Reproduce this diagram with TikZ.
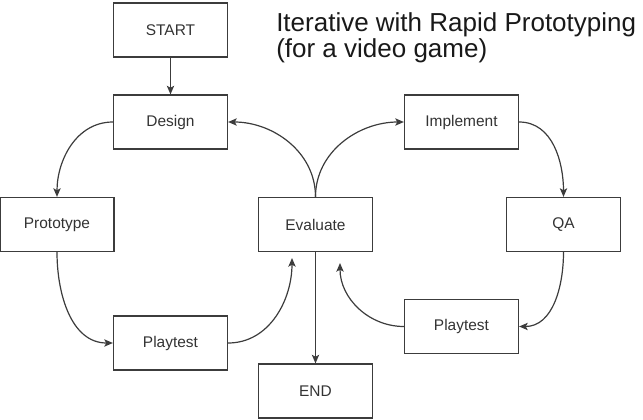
\documentclass[tikz,border=0pt]{standalone}
\usepackage{fontspec}
\setmainfont{Liberation Sans}
\usetikzlibrary{arrows.meta}
\definecolor{linec}{HTML}{3C3C3C}
\definecolor{textc}{HTML}{333333}
\begin{document}
\begin{tikzpicture}[x=0.75pt,y=-0.75pt,
  box/.style={draw=linec, line width=0.9pt, inner sep=0pt, minimum width=85.5pt, minimum height=40.5pt,
    text=textc, font=\fontsize{11.6}{14}\selectfont},
  conn/.style={draw=linec, line width=0.9pt, -{Stealth[length=6.5pt,width=5.5pt,inset=1.5pt]}}]
\useasboundingbox (0,0) rectangle (643,419);
\node[box] (start) at (170.5,30) {START};
\node[box] (design) at (170.5,122) {Design};
\node[box] (proto) at (57,224.5) {Prototype};
\node[box] (playl) at (170.5,343) {Playtest};
\node[box] (eval) at (315.5,224.5) {Evaluate};
\node[box] (endn) at (315.5,391) {END};
\node[box] (impl) at (461.5,122) {Implement};
\node[box] (qa) at (563.5,224.5) {QA};
\node[box] (playr) at (461.5,326.5) {Playtest};
\coordinate (e1) at (292,258);
\coordinate (e2) at (340,263);
\node[anchor=base west, inner sep=0pt, font=\fontsize{19.5}{20}\selectfont, text=black!90] (t1) at (276,31) {Iterative with Rapid Prototyping};
\node[anchor=base west, inner sep=0pt, font=\fontsize{19.5}{20}\selectfont, text=black!90] (t2) at (276,57.5) {(for a video game)};
\draw[conn] (start) -- (design);
\draw[conn] (design.west) to[out=180,in=90] (proto.north);
\draw[conn] (proto.south) to[out=270,in=180] (playl.west);
\draw[conn] (playl.east) to[out=0,in=270] (e1);
\draw[conn] (eval.north) to[out=90,in=0] (design.east);
\draw[conn] (eval.north) to[out=90,in=180] (impl.west);
\draw[conn] (impl.east) to[out=0,in=90] (qa.north);
\draw[conn] (qa.south) to[out=270,in=0] (playr.east);
\draw[conn] (playr.west) to[out=180,in=270] (e2);
\draw[conn] (eval) -- (endn);
\end{tikzpicture}
\end{document}
